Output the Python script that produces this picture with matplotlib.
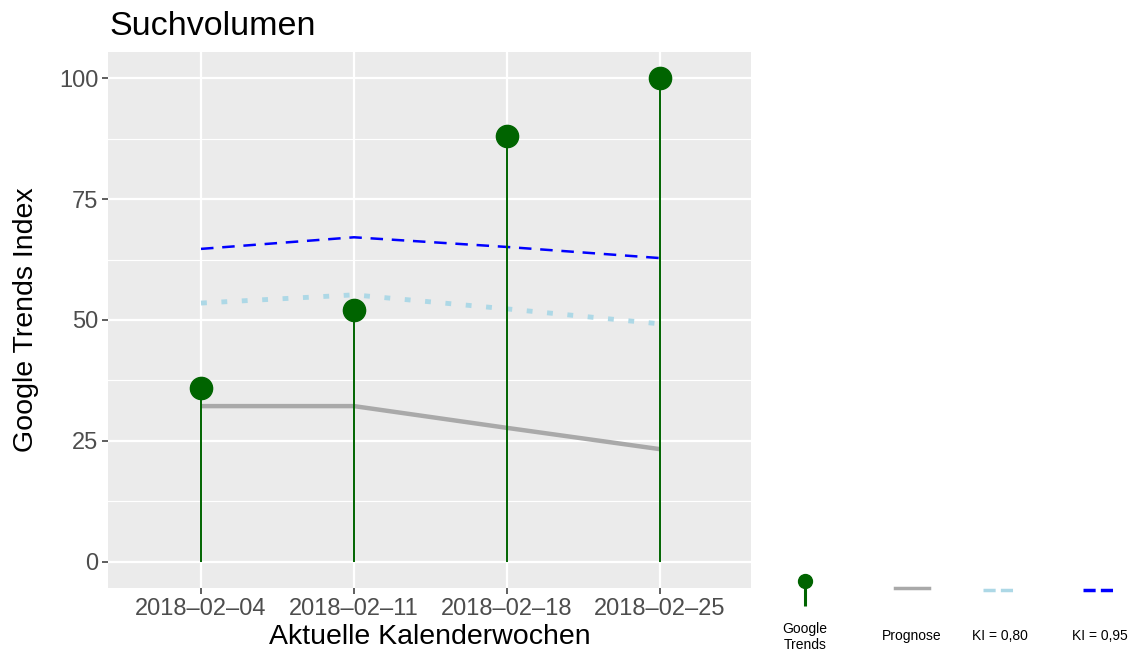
import numpy as np
import pandas as pd
import matplotlib
matplotlib.use("Agg")
import matplotlib.pyplot as plt
import matplotlib.dates as mdates
from matplotlib.ticker import MultipleLocator

# ----------------------------
# Data
# ----------------------------
weeks = pd.to_datetime(["2018-02-04", "2018-02-11", "2018-02-18", "2018-02-25"])
trends = [36, 52, 88, 100]
prognose = [32.2, 32.2, 27.7, 23.3]
ki80_upper = [53.5, 55.2, 52.3, 49.2]
ki95_upper = [64.7, 67.1, 65.1, 62.8]
tick_labels = ["2018\u201302\u201304", "2018\u201302\u201311", "2018\u201302\u201318", "2018\u201302\u201325"]
legend_labels = ["Google\nTrends", "Prognose", "KI = 0,80", "KI = 0,95"]

GREEN = "#006400"
GREY = "#A9A9A9"
LIGHTBLUE = "#ADD8E6"
BLUE = "#0000FF"
TXT = "#4D4D4D"

plt.rcParams["font.family"] = ["Liberation Sans", "DejaVu Sans"]

fig = plt.figure(figsize=(11.37, 6.59), dpi=100)
# panel: x 108..751, y 52..588 px
W, H = 1137, 659
ax = fig.add_axes([108 / W, 1 - 588 / H, (751 - 108) / W, (588 - 52) / H])
ax.set_facecolor("#EBEBEB")
for s in ax.spines.values():
    s.set_visible(False)

ax.yaxis.set_major_locator(MultipleLocator(25))
ax.yaxis.set_minor_locator(MultipleLocator(12.5))
ax.grid(which="major", color="white", linewidth=1.6)
ax.grid(which="minor", axis="y", color="white", linewidth=0.8)
ax.set_axisbelow(True)

# lines
ax.plot(weeks, prognose, color=GREY, linewidth=3.2, solid_capstyle="butt")
ax.plot(weeks, ki80_upper, color=LIGHTBLUE, linewidth=3.5, linestyle=(0, (1.2, 3.0)))
ax.plot(weeks, ki95_upper, color=BLUE, linewidth=1.8, linestyle=(0, (5, 3.5)))

# lollipops
ax.vlines(weeks, 0, trends, color=GREEN, linewidth=1.4)
ax.plot(weeks, trends, "o", color=GREEN, markersize=16)

ax.set_ylim(-5.4, 105.4)
x0 = mdates.date2num(weeks[0])
step = 7.0
ax.set_xlim(x0 - 0.608 * step, x0 + 3.595 * step)
ax.set_xticks(weeks)
ax.set_xticklabels(tick_labels)
ax.tick_params(axis="both", which="major", length=4, color="#333333",
               labelsize=17, labelcolor=TXT, width=1.1, pad=3)
ax.tick_params(axis="y", which="minor", length=0)
ax.set_yticks([0, 25, 50, 75, 100])

ax.set_xlabel("Aktuelle Kalenderwochen", fontsize=20.5, labelpad=3)
ax.set_ylabel("Google Trends Index", fontsize=20.5, labelpad=14)
ax.set_title("Suchvolumen", loc="left", fontsize=24.5, pad=12, x=0.003)

# legend drawn below the right side, keys above labels
lax = fig.add_axes([770 / W, 0, (W - 770) / W, 100 / H])
lax.set_xlim(770, W)
lax.set_ylim(H, H - 100)
lax.axis("off")
kx = [805, 912, 1000, 1100]
ky = 588
lax.vlines(kx[0], 582, 606, color=GREEN, linewidth=2.2)
lax.plot(kx[0], 581, "o", color=GREEN, markersize=10)
lax.plot([kx[1] - 17, kx[1] + 17], [ky, ky], color=GREY, linewidth=2.5)
lax.plot([kx[2] - 17, kx[2] + 17], [ky + 2, ky + 2], color=LIGHTBLUE, linewidth=2.5,
         linestyle=(0, (3.5, 1.5)))
lax.plot([kx[3] - 17, kx[3] + 17], [ky + 2, ky + 2], color=BLUE, linewidth=2.5,
         linestyle=(0, (3.5, 1.5)))
for x, lab in zip(kx, legend_labels):
    yy = 637 if "\n" in lab else 636
    lax.text(x, yy, lab, ha="center", va="center", fontsize=10, color="black",
             linespacing=1.25)

fig.savefig("out.png", dpi=100)
